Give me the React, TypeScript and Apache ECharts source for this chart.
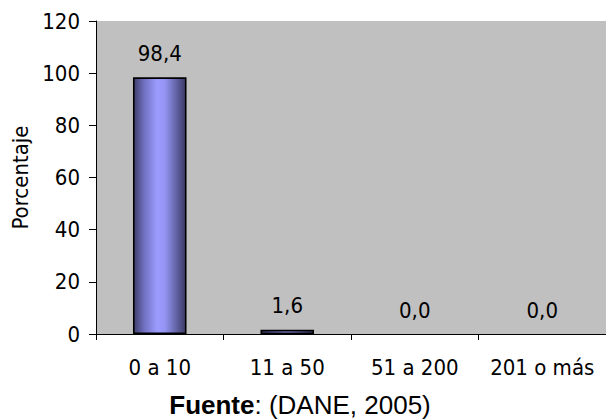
import React, { useEffect, useRef } from "react";
import * as echarts from "echarts";

const categories = ["0 a 10", "11 a 50", "51 a 200", "201 o más"];
const values = [98.4, 1.6, 0.0, 0.0];
const yTicks = { min: 0, max: 120, interval: 20 };
const yAxisName = "Porcentaje";
const sourceBold = "Fuente";
const sourceRest = ": (DANE, 2005)";

const tickFont = "'DejaVu Sans Condensed', 'DejaVu Sans', sans-serif";

export default function App() {
  const ref = useRef<HTMLDivElement>(null);
  useEffect(() => {
    if (!ref.current) return;
    const chart = echarts.init(ref.current, null, { renderer: "svg" });
    chart.setOption({
      animation: false,
      backgroundColor: "#ffffff",
      grid: {
        left: 96,
        top: 21,
        bottom: 86,
        width: 519,
        show: true,
        backgroundColor: "#c0c0c0",
        borderWidth: 0,
        containLabel: false,
      },
      xAxis: {
        type: "category",
        data: categories,
        axisLine: { show: true, lineStyle: { color: "#000", width: 1 } },
        axisTick: { show: true, length: 6, lineStyle: { color: "#000" } },
        axisLabel: {
          interval: 0,
          color: "#000",
          fontFamily: tickFont,
          fontSize: 22,
          margin: 22,
        },
      },
      yAxis: {
        type: "value",
        min: yTicks.min,
        max: yTicks.max,
        interval: yTicks.interval,
        name: yAxisName,
        nameLocation: "middle",
        nameGap: 64,
        nameRotate: 90,
        nameTextStyle: { color: "#000", fontFamily: tickFont, fontSize: 22 },
        axisLine: { show: true, lineStyle: { color: "#000", width: 1 } },
        axisTick: { show: true, length: 7, lineStyle: { color: "#000" } },
        splitLine: { show: false },
        axisLabel: {
          color: "#000",
          fontFamily: tickFont,
          fontSize: 22,
          margin: 16,
        },
      },
      series: [
        {
          type: "bar",
          data: values.map((v) => ({
            value: v,
            itemStyle: v === 0 ? { borderWidth: 0 } : undefined,
          })),
          barWidth: "42%",
          itemStyle: {
            borderColor: "#000",
            borderWidth: 1.6,
            color: new echarts.graphic.LinearGradient(0, 0, 1, 0, [
              { offset: 0, color: "#3e3e6c" },
              { offset: 0.2, color: "#7070c0" },
              { offset: 0.45, color: "#9c9cff" },
              { offset: 0.6, color: "#9494f4" },
              { offset: 1, color: "#3a3a64" },
            ]),
          },
          label: {
            show: true,
            position: "top",
            distance: 13,
            color: "#000",
            fontFamily: tickFont,
            fontSize: 22,
            formatter: (p: any) => Number(p.value).toFixed(1).replace(".", ","),
          },
        },
      ],
      graphic: [
        {
          type: "text",
          x: 300,
          y: 405,
          style: {
            text: `{b|${sourceBold}}{r|${sourceRest}}`,
            align: "center",
            verticalAlign: "middle",
            rich: {
              b: {
                fontFamily: "'Liberation Sans', Arial, sans-serif",
                fontWeight: "bold",
                fontSize: 26,
                fill: "#000",
              },
              r: {
                fontFamily: "'Liberation Sans', Arial, sans-serif",
                fontSize: 26,
                fill: "#000",
              },
            },
          },
        },
      ],
    });
    return () => chart.dispose();
  }, []);
  return <div ref={ref} style={{ width: 606, height: 420, position: "absolute", left: 0, top: 0 }} />;
}
